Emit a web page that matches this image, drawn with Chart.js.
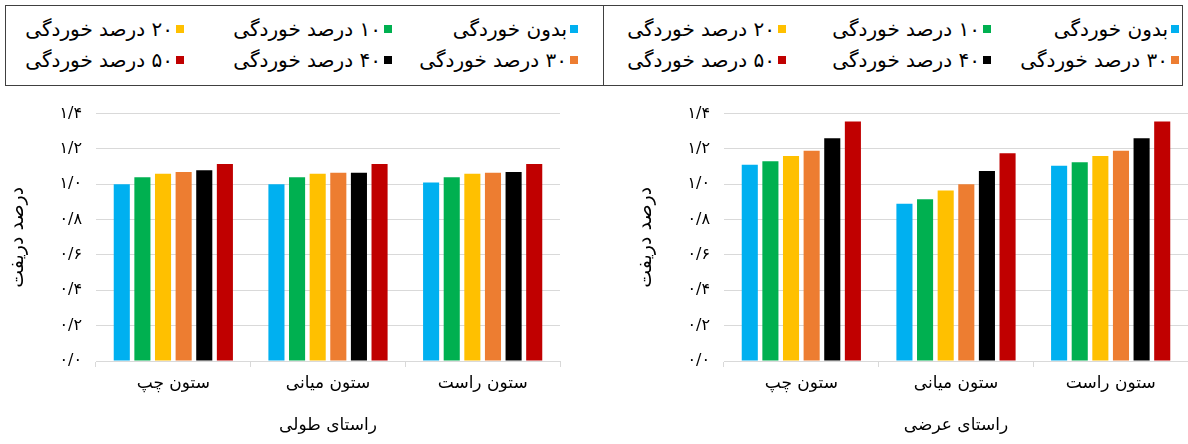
<!DOCTYPE html>
<html>
<head>
<meta charset="utf-8">
<script src="https://cdn.jsdelivr.net/npm/chart.js@4.4.0/dist/chart.umd.min.js"></script>
<style>
  body { margin: 0; width: 1188px; height: 444px; background: #fff; position: relative; overflow: hidden; font-family: 'DejaVu Sans', sans-serif; }
  .legend-box { position: absolute; left: 5px; top: 5px; width: 1176px; height: 79px; border: 1px solid #404040; display: flex; }
  .legend-half { position: relative; height: 100%; box-sizing: border-box; }
  .legend-half.left { width: 598px; border-right: 1px solid #404040; padding-right: 25px; }
  .legend-half.right { width: 578px; padding-right: 3px; }
  .legend-grid { direction: rtl; display: grid; grid-auto-rows: 31px; padding-top: 7px; }
  .legend-half.left .legend-grid { grid-template-columns: 186px 208px 1fr; }
  .legend-half.right .legend-grid { grid-template-columns: 188px 205px 1fr; }
  .legend-item { display: flex; align-items: center; font-size: 20px; color: #000; white-space: nowrap; }
  .legend-item span.box { width: 8px; height: 8px; margin-left: 3px; flex: none; }
  .wrap { position: absolute; top: 90px; height: 354px; }
</style>
</head>
<body>
<div class="legend-box">
  <div class="legend-half left"><div class="legend-grid" id="legendLeft"></div></div>
  <div class="legend-half right"><div class="legend-grid" id="legendRight"></div></div>
</div>
<div class="wrap" style="left:0;width:600px"><canvas id="chartLong"></canvas></div>
<div class="wrap" style="left:600px;width:588px"><canvas id="chartTrans"></canvas></div>
<script>
  const categories = ['ستون چپ', 'ستون میانی', 'ستون راست'];
  const seriesLabels = ['بدون خوردگی', '۱۰ درصد خوردگی', '۲۰ درصد خوردگی', '۳۰ درصد خوردگی', '۴۰ درصد خوردگی', '۵۰ درصد خوردگی'];
  const seriesColors = ['#00B0F0', '#00B050', '#FFC000', '#ED7D31', '#000000', '#C00000'];
  const yTickLabels = ['۰/۰', '۰/۲', '۰/۴', '۰/۶', '۰/۸', '۱/۰', '۱/۲', '۱/۴'];
  const yTitle = 'درصد دریفت';
  const titleLong = 'راستای طولی';
  const titleTrans = 'راستای عرضی';

  // longitudinal direction (left chart)
  const longNone = [1.00, 1.00, 1.01];
  const long10 = [1.04, 1.04, 1.04];
  const long20 = [1.06, 1.06, 1.06];
  const long30 = [1.07, 1.065, 1.065];
  const long40 = [1.08, 1.065, 1.07];
  const long50 = [1.115, 1.115, 1.115];

  // transverse direction (right chart)
  const transNone = [1.11, 0.89, 1.105];
  const trans10 = [1.13, 0.915, 1.125];
  const trans20 = [1.16, 0.965, 1.16];
  const trans30 = [1.19, 1.00, 1.19];
  const trans40 = [1.26, 1.075, 1.26];
  const trans50 = [1.355, 1.175, 1.355];

  const FONT = "'DejaVu Sans', sans-serif";

  // html legends
  ['legendLeft', 'legendRight'].forEach(id => {
    const el = document.getElementById(id);
    seriesLabels.forEach((lab, i) => {
      const item = document.createElement('div');
      item.className = 'legend-item';
      item.innerHTML = '<span class="box" style="background:' + seriesColors[i] + '"></span><span>' + lab + '</span>';
      el.appendChild(item);
    });
  });

  function makeChart(canvasId, seriesValues, title, yWidth, padRight, titlePad) {
    const ctx = document.getElementById(canvasId).getContext('2d');
    return new Chart(ctx, {
      type: 'bar',
      data: {
        labels: categories,
        datasets: seriesValues.map((vals, i) => ({
          label: seriesLabels[i],
          data: vals,
          backgroundColor: seriesColors[i],
          borderWidth: 0,
          categoryPercentage: 0.8,
          barPercentage: 0.78
        }))
      },
      options: {
        responsive: true,
        maintainAspectRatio: false,
        animation: false,
        layout: { padding: { left: 0, right: padRight, top: 23, bottom: 0 } },
        plugins: { legend: { display: false }, tooltip: { enabled: false } },
        scales: {
          x: {
            grid: { drawOnChartArea: false, drawTicks: true, tickLength: 6, color: '#d9d9d9' },
            border: { color: '#d9d9d9' },
            ticks: { color: '#000', font: { family: FONT, size: 17 }, padding: 6 },
            title: { display: true, text: title, color: '#000', font: { family: FONT, size: 17 }, padding: { top: 0, bottom: 8 } },
            afterFit: s => { s.height = 83; }
          },
          y: {
            min: 0, max: 1.4,
            grid: { color: '#d9d9d9', drawTicks: false },
            border: { display: false },
            ticks: { stepSize: 0.2, color: '#000', font: { family: FONT, size: 16 }, padding: 14,
              callback: (v, i) => yTickLabels[i] },
            title: { display: true, text: yTitle, color: '#000', font: { family: FONT, size: 19 }, padding: { top: titlePad, bottom: 0 } },
            afterFit: s => { s.width = yWidth; }
          }
        }
      }
    });
  }

  makeChart('chartLong', [longNone, long10, long20, long30, long40, long50], titleLong, 96, 40, 7);
  makeChart('chartTrans', [transNone, trans10, trans20, trans30, trans40, trans50], titleTrans, 124, 0, 35);
</script>
</body>
</html>
